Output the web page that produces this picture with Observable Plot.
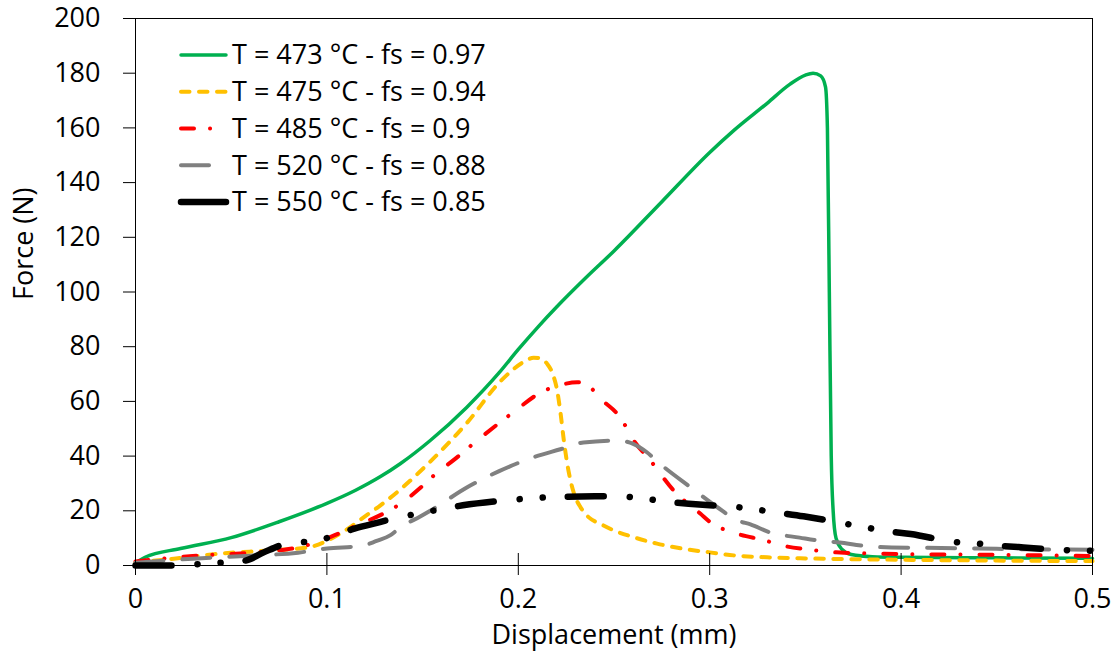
<!DOCTYPE html>
<html>
<head>
<meta charset="utf-8">
<script src="https://cdn.jsdelivr.net/npm/d3@7"></script>
<script src="https://cdn.jsdelivr.net/npm/@observablehq/plot@0.6"></script>
<style>
html, body { margin: 0; padding: 0; background: #fff; }
#chart { position: relative; width: 1116px; height: 659px; font-family: 'Open Sans', sans-serif; }
#legend { position: absolute; left: 0; top: 0; pointer-events: none; }
</style>
</head>
<body>
<div id="chart"></div>
<script>
// ---- Tick values ----
const xTicks = [0, 0.1, 0.2, 0.3, 0.4, 0.5];
const yTicks = [0, 20, 40, 60, 80, 100, 120, 140, 160, 180, 200];
const xLabel = "Displacement (mm)";
const yLabel = "Force (N)";

// ---- Series labels & styles ----
const seriesLabels = [
  "T = 473 °C - fs = 0.97",
  "T = 475 °C - fs = 0.94",
  "T = 485 °C - fs = 0.9",
  "T = 520 °C - fs = 0.88",
  "T = 550 °C - fs = 0.85"
];
const seriesColors = ["#00B050", "#FFC000", "#FF0000", "#808080", "#000000"];

// ---- Series values (displacement mm, force N) ----
const disp473 = [0, 0.005, 0.0235, 0.05, 0.075, 0.1, 0.115, 0.128, 0.1385, 0.154, 0.173, 0.19, 0.2, 0.21, 0.22, 0.235, 0.25, 0.275, 0.3, 0.3125, 0.33, 0.342, 0.35, 0.354, 0.358, 0.3605, 0.3615, 0.3625, 0.3635, 0.3645, 0.366, 0.369, 0.374, 0.385, 0.4, 0.45, 0.5];
const force473 = [1, 3, 6.2, 10.2, 16, 22.7, 27.5, 32.5, 37.3, 45.7, 57.8, 70.5, 79, 87, 94.5, 105, 115, 133, 151, 159, 169, 176, 179.3, 180, 179, 175, 160, 100, 40, 20, 10, 6, 4, 3.2, 3, 2.8, 2.6];

const disp475 = [0, 0.02, 0.045, 0.07, 0.09, 0.1, 0.11, 0.119, 0.128, 0.137, 0.154, 0.173, 0.191, 0.203, 0.208, 0.212, 0.215, 0.218, 0.2203, 0.2222, 0.2238, 0.2255, 0.2273, 0.2295, 0.2325, 0.237, 0.243, 0.25, 0.26, 0.2725, 0.2863, 0.3, 0.3125, 0.33, 0.35, 0.4, 0.45, 0.5];
const force475 = [1, 2.5, 4.4, 5.5, 6.6, 9, 13, 17.5, 22, 27, 38, 52, 67.6, 74.5, 76, 75.6, 73.8, 70, 64, 55, 45.7, 37.5, 31, 25.5, 21.3, 17.5, 15.2, 12.8, 10.4, 8, 6.1, 4.8, 3.7, 3, 2.6, 2.1, 1.8, 1.6];

const disp485 = [0, 0.03, 0.067, 0.08, 0.09, 0.102, 0.115, 0.1296, 0.1385, 0.149, 0.156, 0.167, 0.1785, 0.1977, 0.2116, 0.222, 0.2308, 0.237, 0.243, 0.2534, 0.2603, 0.269, 0.2812, 0.2952, 0.3, 0.3144, 0.328, 0.34, 0.352, 0.366, 0.4, 0.45, 0.5];
const force485 = [1.5, 3.5, 5, 6, 7.5, 10.5, 14.5, 19, 22.6, 28.5, 33, 39, 45.7, 56.2, 63.2, 66, 67, 65.5, 61, 54, 45.7, 38.4, 27.4, 18.9, 16, 11.6, 9.3, 7, 5.8, 4.8, 4.2, 3.9, 3.5];

const disp520 = [0, 0.03, 0.06, 0.085, 0.1, 0.119, 0.126, 0.133, 0.1385, 0.149, 0.154, 0.1733, 0.19, 0.208, 0.222, 0.234, 0.2517, 0.26, 0.267, 0.274, 0.29, 0.304, 0.3145, 0.3213, 0.332, 0.347, 0.358, 0.368, 0.379, 0.395, 0.41, 0.44, 0.47, 0.5];
const force520 = [1, 2.5, 3.6, 4.7, 6.2, 7.3, 9, 11, 14, 18, 20, 28.6, 34.5, 39.6, 42.5, 45, 45.7, 44.5, 41.5, 37.2, 28.6, 21.3, 16.5, 15, 12, 10.2, 9, 8.4, 7.3, 6.6, 6.5, 6.2, 5.9, 5.8];

const disp550 = [0, 0.02, 0.033, 0.045, 0.0575, 0.067, 0.0775, 0.0905, 0.102, 0.113, 0.124, 0.135, 0.147, 0.159, 0.171, 0.193, 0.218, 0.24, 0.252, 0.265, 0.277, 0.289, 0.3, 0.312, 0.324, 0.336, 0.349, 0.37, 0.381, 0.393, 0.405, 0.428, 0.44, 0.452, 0.464, 0.487, 0.5];
const force550 = [0, 0, 0.5, 1, 1.8, 4.8, 7.7, 8.8, 10.4, 13.2, 15.2, 17.2, 18.9, 20.5, 22, 23.8, 25, 25.3, 25.3, 24.5, 23.4, 22.6, 22, 21.5, 20.5, 19.3, 18, 15.4, 14, 12.5, 11.5, 8.6, 8, 7.2, 6.6, 5.6, 5.4];

const seriesX = [disp473, disp475, disp485, disp520, disp550];
const seriesY = [force473, force475, force485, force520, force550];

// ---- styles ----
const widths = [3.5, 4, 4, 4, 6.5];
const dashes = [null, "8.5,9.5", "13,16,0.1,19", "28,19", "36,26,0.1,23,0.1,25"];
const legendDashes = [null, "8.5,9.5", "13,16,0.1,19", "28,19", null];

const series = seriesX.map((xs, i) => xs.map((x, j) => ({x, y: seriesY[i][j]})));

const FONT = 27;
const lineMarks = series.map((data, i) => Plot.line(data, {
  x: "x", y: "y",
  stroke: seriesColors[i],
  strokeWidth: widths[i],
  strokeDasharray: dashes[i],
  curve: "monotone-x"
}));

const chart = Plot.plot({
  width: 1116,
  height: 659,
  marginLeft: 135,
  marginRight: 24,
  marginTop: 18,
  marginBottom: 94,
  style: {fontFamily: "'Open Sans', sans-serif", fontSize: FONT + "px", background: "white", color: "black", overflow: "visible"},
  x: {domain: [0, 0.5]},
  y: {domain: [0, 200]},
  marks: [
    ...lineMarks,
    Plot.frame({stroke: "black", strokeWidth: 1}),
    Plot.axisY({ticks: yTicks, tickSize: 12, tickPadding: 23, label: null, fontSize: FONT, tickFormat: d => String(d)}),
    Plot.axisX({ticks: xTicks, tickSize: 22, dy: -12, tickPadding: 13, label: null, fontSize: FONT, tickFormat: d => d === 0 ? "0" : String(d)}),
    Plot.text([xLabel], {frameAnchor: "bottom", dy: 78, text: d => d, fontSize: FONT, fill: "black"}),
    Plot.text([yLabel], {frameAnchor: "left", dx: -111, dy: 8, rotate: -90, text: d => d, fontSize: FONT, fill: "black"})
  ]
});

const container = document.getElementById("chart");
container.appendChild(chart);

// ---- legend overlay ----
const leg = d3.select(container).append("svg")
  .attr("id", "legend")
  .attr("width", 1116)
  .attr("height", 659);
seriesLabels.forEach((label, i) => {
  const cy = 55 + i * 36.75;
  leg.append("line")
    .attr("x1", 181).attr("x2", 226)
    .attr("y1", cy).attr("y2", cy)
    .attr("stroke", seriesColors[i])
    .attr("stroke-width", widths[i])
    .attr("stroke-linecap", "round")
    .attr("stroke-dasharray", legendDashes[i]);
  leg.append("text")
    .attr("x", 232).attr("y", cy)
    .attr("dy", "0.35em")
    .attr("font-family", "'Open Sans', sans-serif")
    .attr("font-size", FONT)
    .attr("fill", "black")
    .text(label);
});
</script>
</body>
</html>
